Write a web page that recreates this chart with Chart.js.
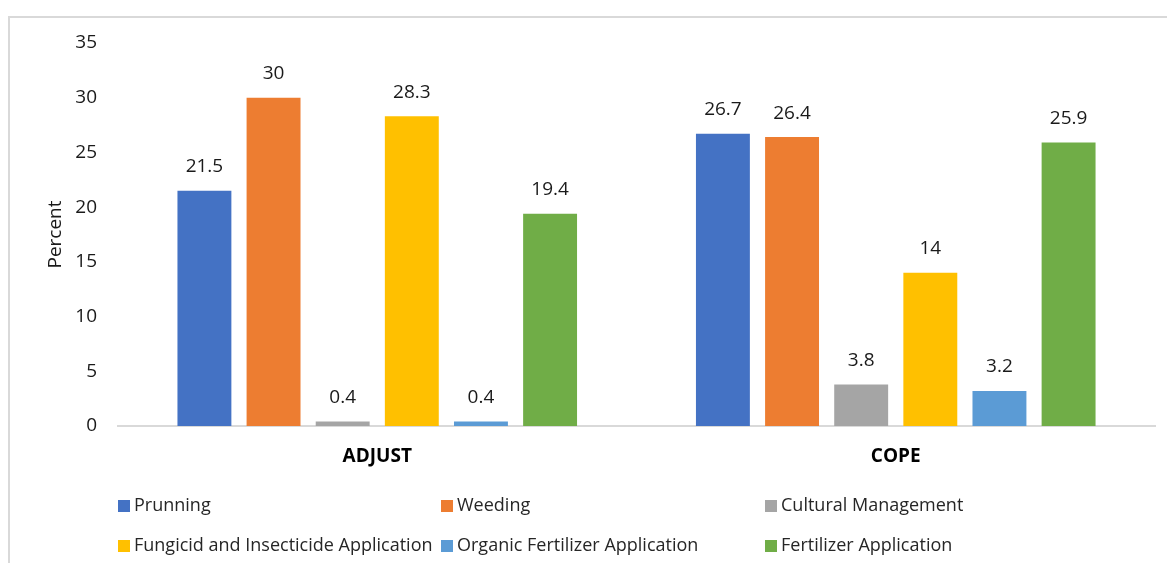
<!DOCTYPE html>
<html>
<head>
<meta charset="utf-8">
<script src="https://cdn.jsdelivr.net/npm/chart.js@4"></script>
<style>
  html, body { margin: 0; padding: 0; background: #fff; }
  #wrap { position: relative; width: 1167px; height: 563px; overflow: hidden; }
  #frame { position: absolute; left: 8px; top: 16px; width: 1170px; height: 560px;
           border-left: 2px solid #d9d9d9; border-top: 2px solid #d9d9d9; box-sizing: border-box; }
  #chart { position: absolute; left: 0; top: 0; }
  .lg { position: absolute; font-family: "Open Sans", sans-serif; font-size: 18px; color: #262626;
        white-space: nowrap; line-height: 20px; }
  .lg i { display: inline-block; width: 12px; height: 12px; margin-right: 4px; vertical-align: -1px; }
</style>
</head>
<body>
<div id="wrap">
  <div id="frame"></div>
  <canvas id="chart" width="1167" height="563"></canvas>
  <div id="legend"></div>
</div>
<script>
    "use strict";

    // chart data
    const categories = ["ADJUST", "COPE"];
    const seriesNames = ["Prunning", "Weeding", "Cultural Management",
        "Fungicid and Insecticide Application", "Organic Fertilizer Application", "Fertilizer Application"];
    const prunning = [21.5, 26.7];
    const weeding = [30, 26.4];
    const cultural = [0.4, 3.8];
    const fungicid = [28.3, 14];
    const organic = [0.4, 3.2];
    const fertilizer = [19.4, 25.9];
    const yTicks = [0, 5, 10, 15, 20, 25, 30, 35];

    const colors = ["#4472C4", "#ED7D31", "#A5A5A5", "#FFC000", "#5B9BD5", "#70AD47"];
    const seriesValues = [prunning, weeding, cultural, fungicid, organic, fertilizer];
    const font = "'Open Sans', sans-serif";

    // value labels above the bars (no datalabels plugin offline)
    const valueLabels = {
        id: "valueLabels",
        afterDatasetsDraw: function (chart) {
            const ctx = chart.ctx;
            ctx.save();
            ctx.font = "19px " + font;
            ctx.fillStyle = "#1a1a1a";
            ctx.textAlign = "center";
            ctx.textBaseline = "middle";
            chart.data.datasets.forEach(function (ds, i) {
                chart.getDatasetMeta(i).data.forEach(function (bar, j) {
                    ctx.fillText(String(ds.data[j]), bar.x, bar.y - 24);
                });
            });
            ctx.restore();
        }
    };

    new Chart(document.getElementById("chart").getContext("2d"), {
        type: "bar",
        data: {
            labels: categories,
            datasets: seriesNames.map(function (name, i) {
                return {
                    label: name,
                    data: seriesValues[i],
                    backgroundColor: colors[i],
                    barPercentage: 0.78,
                    categoryPercentage: 0.8
                };
            })
        },
        options: {
            responsive: false,
            animation: false,
            layout: { padding: { left: 44, right: 12, top: 43, bottom: 87 } },
            plugins: {
                legend: { display: false },
                tooltip: { enabled: false }
            },
            scales: {
                x: {
                    grid: { display: false, drawTicks: false },
                    border: { display: true, color: "#d9d9d9", width: 2 },
                    ticks: {
                        padding: 19,
                        color: "#000",
                        font: { family: font, size: 19, weight: "bold" }
                    },
                    afterFit: function (s) { s.height = 50; }
                },
                y: {
                    min: 0,
                    max: 35,
                    afterBuildTicks: function (s) { s.ticks = yTicks.map(function (v) { return { value: v }; }); },
                    grid: { display: false, drawTicks: false },
                    border: { display: false },
                    ticks: {
                        padding: 21,
                        color: "#1a1a1a",
                        font: { family: font, size: 19 }
                    },
                    title: {
                        display: true,
                        text: "Percent",
                        color: "#1a1a1a",
                        padding: { top: 0, bottom: 8 },
                        font: { family: font, size: 19 }
                    },
                    afterFit: function (s) { s.width = 74; }
                }
            }
        },
        plugins: [valueLabels]
    });

    // legend in three fixed columns like the original
    const legendPos = [[118, 494], [441, 494], [765, 494], [118, 534], [441, 534], [765, 534]];
    const legend = document.getElementById("legend");
    seriesNames.forEach(function (name, i) {
        const d = document.createElement("div");
        d.className = "lg";
        d.style.left = legendPos[i][0] + "px";
        d.style.top = legendPos[i][1] + "px";
        d.innerHTML = '<i style="background:' + colors[i] + '"></i>' + name;
        legend.appendChild(d);
    });
</script>
</body>
</html>
